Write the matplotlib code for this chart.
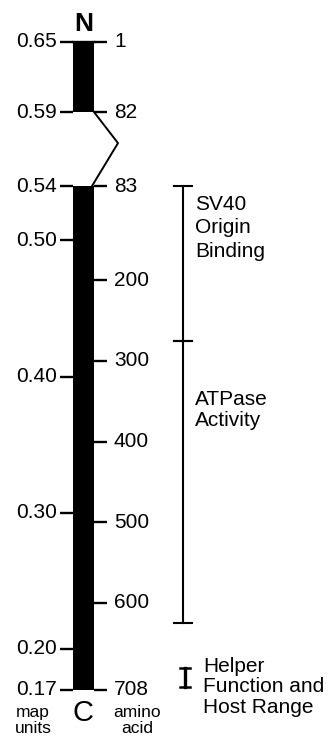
import matplotlib
matplotlib.use("Agg")
import matplotlib.pyplot as plt
import numpy as np

plt.rcParams["font.family"] = ["Liberation Sans", "DejaVu Sans"]

# map units along the left side of the bar
map_units = [0.65, 0.59, 0.54, 0.50, 0.40, 0.30, 0.20, 0.17]
map_labels = ["0.65", "0.59", "0.54", "0.50", "0.40", "0.30", "0.20", "0.17"]

# amino acid numbers along the right side
aa_ticks = [1, 82, 83, 200, 300, 400, 500, 600, 708]
aa_labels = ["1", "82", "83", "200", "300", "400", "500", "600", "708"]

# the two pieces of the protein (residues), split after residue 82
segments = [(1, 82), (83, 708)]

# functional domains (residues)
domain_names = ["SV40\nOrigin\nBinding", "ATPase\nActivity", "Helper\nFunction and\nHost Range"]
domain_start = [83, 275, 681]
domain_end = [275, 625, 705]

# layout: the upper piece is drawn shifted up so the gap can hold the kink
TOP_Y = (-95.7, -8.8)
BAR_X = (73, 94)
TICK = 13


def pos(aa):
    aa = np.asarray(aa, dtype=float)
    return np.where(aa <= 82, np.interp(aa, [1, 82], TOP_Y), aa)


def map_to_aa(m):
    if m >= 0.59:
        return np.interp(m, [0.59, 0.65], [82, 1])
    return 83 + (0.54 - m) / (0.54 - 0.17) * (708 - 83)


fig = plt.figure(figsize=(3.29, 7.46), dpi=100)
ax = fig.add_axes([0, 0, 1, 1])
ax.set_xlim(0, 329)
ax.set_ylim(777.8, -147.8)
ax.axis("off")

# bar pieces
for a, b in segments:
    y0, y1 = pos(a), pos(b)
    ax.fill_between(BAR_X, y0, y1, color="black", lw=0)

# kink joining residue 82 to 83
y82, y83 = float(pos(82)), float(pos(83))
ax.plot([BAR_X[1], 118, BAR_X[1] - 2], [y82, y82 + 0.42 * (y83 - y82), y83],
        color="black", lw=1.4)

# map unit ticks
for m, lab in zip(map_units, map_labels):
    y = float(pos(map_to_aa(m)))
    ax.plot([BAR_X[0] - TICK, BAR_X[0]], [y, y], color="black", lw=1.7,
            solid_capstyle="butt")
    ax.text(BAR_X[0] - TICK - 3, y, lab, ha="right", va="center", fontsize=15)

# amino acid ticks
for a, lab in zip(aa_ticks, aa_labels):
    y = float(pos(a))
    ax.plot([BAR_X[1], BAR_X[1] + TICK], [y, y], color="black", lw=1.7,
            solid_capstyle="butt")
    ax.text(BAR_X[1] + TICK + 7, y, lab, ha="left", va="center", fontsize=15)

# top line across the N terminus
ax.plot([BAR_X[0], BAR_X[1]], [float(pos(1))] * 2, color="black", lw=1.7)

ax.text(np.mean(BAR_X), -118, "N", ha="center", va="center", fontsize=19,
        fontweight="bold")
ax.text(np.mean(BAR_X), 737, "C", ha="center", va="center", fontsize=21)
ax.text(33, 727, "map\nunits", ha="center", va="top", fontsize=12.5,
        linespacing=1.12)
ax.text(137, 727, "amino\nacid", ha="center", va="top", fontsize=12.5,
        linespacing=1.12)

# domain brackets
BR_X = 183
for i, (name, s, e) in enumerate(zip(domain_names, domain_start, domain_end)):
    if i < 2:
        ax.plot([BR_X, BR_X], [s, e], color="black", lw=1.5)
        for y in (s, e):
            ax.plot([BR_X - 9, BR_X + 9], [y, y], color="black", lw=1.5)
        ax.text(BR_X + 12, s + (11 if i == 0 else 61), name, ha="left",
                va="top", fontsize=15, linespacing=1.3 if i == 0 else 1.15)
    else:
        hx = BR_X + 2
        ax.plot([hx, hx], [s, e], color="black", lw=2.4)
        for y in (s, e):
            ax.plot([hx - 5, hx + 5], [y, y], color="black", lw=1.8)
        ax.text(BR_X + 20, s - 14, name, ha="left", va="top", fontsize=15,
                linespacing=1.12)

fig.savefig("out.png", dpi=100, facecolor="white")
